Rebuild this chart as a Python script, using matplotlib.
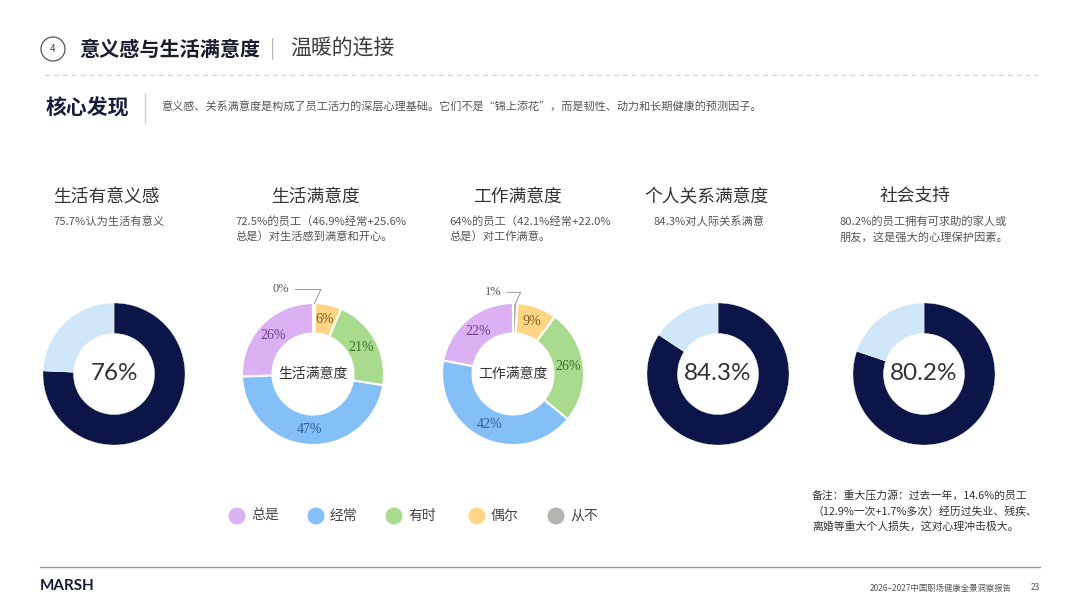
import matplotlib
matplotlib.use("Agg")
import numpy as np
import matplotlib.pyplot as plt
from matplotlib.patches import Circle

plt.rcParams['font.family'] = ['Noto Sans CJK SC', 'DejaVu Sans']

# ---- data ----
chart_titles = ["生活有意义感", "生活满意度", "工作满意度", "个人关系满意度", "社会支持"]
chart_notes = [
    "75.7%认为生活有意义",
    "72.5%的员工（46.9%经常+25.6%\n总是）对生活感到满意和开心。",
    "64%的员工（42.1%经常+22.0%\n总是）对工作满意。",
    "84.3%对人际关系满意",
    "80.2%的员工拥有可求助的家人或\n朋友，这是强大的心理保护因素。",
]

# single-share donuts
meaning_pct = 75.7
relation_pct = 84.3
support_pct = 80.2

# frequency donuts
freq_labels = ["总是", "经常", "有时", "偶尔", "从不"]
life_sat = [25.6, 46.9, 21.0, 6.0, 0.5]
work_sat = [22.0, 42.1, 26.0, 9.0, 1.0]

freq_colors = ["#dcb1f3", "#85bff7", "#a9db8f", "#fdd585", "#b4b4b0"]
freq_text = ["#6b3d8c", "#2d5f9c", "#3f6e2a", "#7a5a1a", "#555555"]
navy = "#0c1547"
pale = "#cfe7f9"

W, H = 1080, 608
fig = plt.figure(figsize=(W / 100, H / 100), dpi=100)
bg = fig.add_axes([0, 0, 1, 1])
bg.set_xlim(0, W)
bg.set_ylim(H, 0)
bg.axis("off")

# ---- header ----
bg.add_patch(Circle((53, 49), 12, fill=False, ec="#555555", lw=0.9))
bg.text(53, 49, "4", ha="center", va="center", fontsize=7, color="#444444")
bg.text(79, 49, "意义感与生活满意度", ha="left", va="center", fontsize=14.5,
        fontweight="bold", color="#1a1d2e")
bg.text(273, 49, "|", ha="center", va="center", fontsize=14, color="#bbbbbb")
bg.text(290, 49, "温暖的连接", ha="left", va="center", fontsize=15, color="#3a3a3a")
bg.plot([45, 1038], [75, 75], ls=(0, (4, 3)), color="#d5d5d5", lw=0.9)

bg.text(46, 108, "核心发现", ha="left", va="center", fontsize=15,
        fontweight="bold", color="#161c3a")
bg.plot([145, 145], [93, 123], color="#cccccc", lw=0.9)
bg.text(161, 107, "意义感、关系满意度是构成了员工活力的深层心理基础。它们不是“锦上添花”，"
        "而是韧性、动力和长期健康的预测因子。", ha="left", va="center",
        fontsize=8, color="#555555")

# ---- titles and notes ----
title_x = [106, 315, 517, 707, 915]
note_x = [53, 235, 449, 653, 840]
for tx, t in zip(title_x, chart_titles):
    bg.text(tx, 197, t, ha="center", va="center", fontsize=12.8, color="#333333")
for nx, n in zip(note_x, chart_notes):
    bg.text(nx, 216, n, ha="left", va="top", fontsize=8.1, color="#555555",
            linespacing=1.5)

# ---- donuts ----
centers = [114, 313, 513, 718, 924]
cy = 374
R = 74
S = 2.4 * R


def donut_axes(cx):
    ax = fig.add_axes([(cx - S / 2) / W, 1 - (cy + S / 2) / H, S / W, S / H])
    ax.set_xlim(-1.2, 1.2)
    ax.set_ylim(-1.2, 1.2)
    ax.set_aspect("equal")
    ax.axis("off")
    return ax


def single_donut(cx, pct, decimals):
    ax = donut_axes(cx)
    ax.pie([pct, 100 - pct], colors=[navy, pale], startangle=90, counterclock=False,
           radius=1.0, wedgeprops=dict(width=0.43, edgecolor="white", linewidth=0.3))
    ax.text(0, 0, f"{pct:.{decimals}f}%", ha="center", va="center", fontsize=17.5,
            family=["Lato", "DejaVu Sans"], color="#333333")


def freq_donut(cx, vals, center_label, small_text_pos):
    ax = donut_axes(cx)
    wedges, _ = ax.pie(vals, colors=freq_colors, startangle=90, counterclock=True,
                       radius=1.0,
                       wedgeprops=dict(width=0.43, edgecolor="white", linewidth=1.5))
    for w, v, tc in zip(wedges, vals, freq_text):
        ang = np.deg2rad((w.theta1 + w.theta2) / 2)
        lbl = f"{v:.0f}%"
        if v < 3:
            px_, py_ = 0.985 * np.cos(ang), 0.985 * np.sin(ang)
            ax.annotate(lbl, xy=(px_, py_), xytext=small_text_pos, ha="right",
                        va="center", fontsize=9, family=["Liberation Serif"],
                        color="#555555",
                        arrowprops=dict(arrowstyle="-", color="#888888", lw=0.6,
                                        shrinkA=2, shrinkB=0,
                                        connectionstyle="angle,angleA=0,angleB=65,rad=0"))
        else:
            r = 0.78
            ax.text(r * np.cos(ang), r * np.sin(ang), lbl, ha="center", va="center",
                    fontsize=10, family=["Liberation Serif"], color=tc)
    ax.text(0, 0, center_label, ha="center", va="center", fontsize=10, color="#333333")


single_donut(centers[0], meaning_pct, 0)
freq_donut(centers[1], life_sat, chart_titles[1], (-0.33, 1.19))
freq_donut(centers[2], work_sat, chart_titles[2], (-0.16, 1.15))
single_donut(centers[3], relation_pct, 1)
single_donut(centers[4], support_pct, 1)

# ---- legend ----
leg_x = [237, 316, 394, 477, 556]
for lx, lab, col in zip(leg_x, freq_labels, freq_colors):
    bg.scatter([lx], [516], s=150, color=col, edgecolors="none")
    bg.text(lx + 14, 516, lab, ha="left", va="center", fontsize=10, color="#444444")

# ---- note ----
bg.text(812, 490, "备注：重大压力源：过去一年，14.6%的员工\n（12.9%一次+1.7%多次）经历过失业、残疾、\n"
        "离婚等重大个人损失，这对心理冲击极大。", ha="left", va="top", fontsize=7.8,
        color="#333333", linespacing=1.55)

# ---- footer ----
bg.plot([40, 1040], [567, 567], color="#999999", lw=1.0)
bg.text(40, 586, "MARSH", ha="left", va="center", fontsize=11, fontweight="bold",
        family=["Lato", "DejaVu Sans"], color="#141a33")
bg.text(1012, 588, "2026–2027中国职场健康全景洞察报告", ha="right", va="center",
        fontsize=6, color="#555555")
bg.text(1035, 588, "23", ha="center", va="center", fontsize=6, color="#555555")

fig.savefig("out.png", dpi=100, facecolor="white")
